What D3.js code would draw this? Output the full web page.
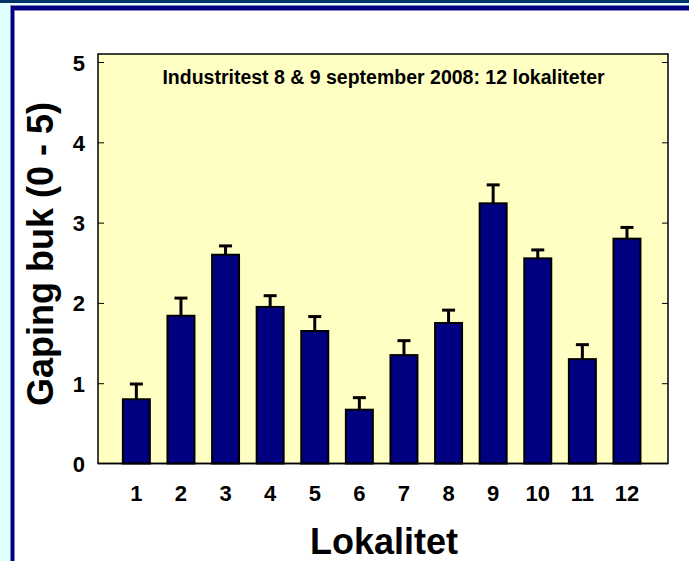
<!DOCTYPE html>
<html>
<head>
<meta charset="utf-8">
<script src="https://cdn.jsdelivr.net/npm/d3@7"></script>
<style>
  body { margin: 0; background: #e0ffff; }
  svg { display: block; }
  text { font-family: Arial, "Liberation Sans", sans-serif; font-weight: bold; fill: #000; }
</style>
</head>
<body>
<svg id="chart"></svg>
<script>
// Gaping buk per lokalitet, industritest sept 2008
const lokaliteter = [1, 2, 3, 4, 5, 6, 7, 8, 9, 10, 11, 12];
const gaping = [0.80, 1.84, 2.60, 1.95, 1.65, 0.67, 1.35, 1.75, 3.24, 2.555, 1.30, 2.80];
const feil = [0.19, 0.22, 0.11, 0.14, 0.18, 0.15, 0.18, 0.16, 0.23, 0.105, 0.18, 0.14];
const yTicks = [0, 1, 2, 3, 4, 5];

const W = 689, H = 561;
const svg = d3.select("#chart").attr("width", W).attr("height", H);

// frame: dark top band, cyan background, navy border round white panel
svg.append("rect").attr("x", 0).attr("y", 0).attr("width", W).attr("height", H).attr("fill", "#e0ffff");
svg.append("rect").attr("x", 0).attr("y", 0).attr("width", W).attr("height", 3).attr("fill", "#003366");
svg.append("rect").attr("x", 10).attr("y", 5).attr("width", W).attr("height", H).attr("fill", "#8080c0");
svg.append("rect").attr("x", 11).attr("y", 6).attr("width", W).attr("height", H).attr("fill", "#000080");
svg.append("rect").attr("x", 14).attr("y", 10).attr("width", W).attr("height", H).attr("fill", "#8080c0");
svg.append("rect").attr("x", 15).attr("y", 11).attr("width", W).attr("height", H).attr("fill", "#ffffff");

const plot = { left: 98, right: 668, top: 54, bottom: 463.5 };

const x = d3.scaleLinear()
    .domain([0.14, 12.92])
    .range([plot.left, plot.right]);

const y = d3.scaleLinear()
    .domain([0, 5.1])
    .range([plot.bottom, plot.top]);

// plot background
svg.append("rect")
    .attr("x", plot.left)
    .attr("y", plot.top)
    .attr("width", plot.right - plot.left)
    .attr("height", plot.bottom - plot.top)
    .attr("fill", "#ffffc4")
    .attr("stroke", "#000")
    .attr("stroke-width", 1.5);

// ticks on both vertical sides, pointing inward
svg.append("g")
    .attr("transform", `translate(${plot.left},0)`)
    .call(d3.axisRight(y).tickValues(yTicks.slice(1)).tickSize(6).tickFormat(""))
    .call(g => g.select(".domain").remove())
    .selectAll("line").attr("stroke", "#000").attr("stroke-width", 1);

svg.append("g")
    .attr("transform", `translate(${plot.right},0)`)
    .call(d3.axisLeft(y).tickValues(yTicks.slice(1)).tickSize(6).tickFormat(""))
    .call(g => g.select(".domain").remove())
    .selectAll("line").attr("stroke", "#000").attr("stroke-width", 1);

// y tick labels
svg.selectAll(".ylab")
    .data(yTicks)
    .enter()
    .append("text")
    .attr("class", "ylab")
    .attr("x", plot.left - 13)
    .attr("y", d => y(d) + 8.5)
    .attr("text-anchor", "end")
    .attr("font-size", 22)
    .text(d => d);

// x tick labels
svg.selectAll(".xlab")
    .data(lokaliteter)
    .enter()
    .append("text")
    .attr("class", "xlab")
    .attr("x", d => x(d))
    .attr("y", 500.5)
    .attr("text-anchor", "middle")
    .attr("font-size", 22)
    .text(d => d);

const barW = x(1.605) - x(1);
const data = lokaliteter.map((d, i) => ({ lok: d, v: gaping[i], e: feil[i] }));

// error bars (upper only)
const eb = svg.selectAll(".err").data(data).enter().append("g").attr("class", "err");
eb.append("line")
    .attr("x1", d => x(d.lok)).attr("x2", d => x(d.lok))
    .attr("y1", d => y(d.v)).attr("y2", d => y(d.v + d.e))
    .attr("stroke", "#000").attr("stroke-width", 3);
eb.append("line")
    .attr("x1", d => x(d.lok) - 6.5).attr("x2", d => x(d.lok) + 6.5)
    .attr("y1", d => y(d.v + d.e)).attr("y2", d => y(d.v + d.e))
    .attr("stroke", "#000").attr("stroke-width", 3);

svg.selectAll(".bar")
    .data(data)
    .enter()
    .append("rect")
    .attr("class", "bar")
    .attr("x", d => x(d.lok) - barW / 2)
    .attr("y", d => y(d.v))
    .attr("width", barW)
    .attr("height", d => y(0) - y(d.v))
    .attr("fill", "#000080")
    .attr("stroke", "#000")
    .attr("stroke-width", 2);

// bottom axis line on top of bars
svg.append("line")
    .attr("x1", plot.left).attr("x2", plot.right)
    .attr("y1", plot.bottom).attr("y2", plot.bottom)
    .attr("stroke", "#000").attr("stroke-width", 1.5);

svg.append("text")
    .attr("x", 383.5)
    .attr("y", 83.5)
    .attr("text-anchor", "middle")
    .attr("font-size", 19.5)
    .text("Industritest 8 & 9 september 2008: 12 lokaliteter");

svg.append("text")
    .attr("x", 384)
    .attr("y", 554)
    .attr("text-anchor", "middle")
    .attr("font-size", 36)
    .text("Lokalitet");

svg.append("text")
    .attr("transform", "translate(53,254) rotate(-90)")
    .attr("text-anchor", "middle")
    .attr("font-size", 36)
    .text("Gaping buk (0 - 5)");
</script>
</body>
</html>
